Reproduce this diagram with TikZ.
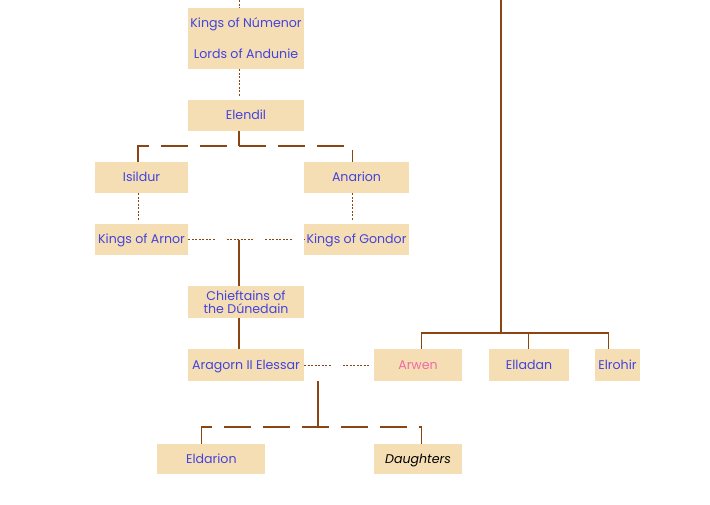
\documentclass[tikz,border=0pt]{standalone}
\usepackage{fontspec}
\setmainfont{Poppins}
\usetikzlibrary{positioning,calc}
\definecolor{wheat}{HTML}{F5DEB3}
\definecolor{nameblue}{HTML}{4343DE}
\definecolor{arwenpink}{HTML}{F06AA8}
\definecolor{linkbrown}{HTML}{8B4513}
\tikzset{person/.style={rectangle, fill=wheat, inner sep=0pt, text=nameblue,
  font=\fontsize{12.6}{13}\selectfont, align=center, minimum height=31pt}}
\tikzset{single/.style={person, text height=8.8pt, text depth=0pt}}
\tikzset{link/.style={draw=linkbrown, line width=1.1pt}}
\tikzset{dashlink/.style={link, dash pattern=on 27pt off 12pt}}
\tikzset{dotlink/.style={draw=linkbrown, line width=1pt,
  dash pattern=on 2pt off 1.5pt on 2pt off 1.5pt on 2pt off 1.5pt on 2pt off 1.5pt
  on 2pt off 1.5pt on 2pt off 1.5pt on 2pt off 1.5pt on 2pt off 12pt}}

\begin{document}
\begin{tikzpicture}[x=1pt, y=-1pt]
  \useasboundingbox (0,0) rectangle (710,504);
  % Elendil's line
  \node[person, minimum width=116pt, minimum height=61pt] (numenor) at (246,38.5)
       {Kings of Númenor\\[17pt]Lords of Andunie};
  \node[single, minimum width=116pt] (elendil) at (246,115.5) {Elendil};
  \node[single, minimum width=93pt]  (isildur) at (141.5,177.5) {Isildur};
  \node[single, minimum width=105pt] (anarion) at (356.5,177.5) {Anarion};
  \node[single, minimum width=93pt]  (arnor)   at (141.5,239.5) {Kings of Arnor};
  \node[single, minimum width=105pt] (gondor)  at (356.5,239.5) {Kings of Gondor};
  \node[person, minimum width=116pt, minimum height=32pt] (chieftains) at (246,302)
       {Chieftains of\\the Dúnedain};
  \node[single, minimum width=116pt, minimum height=32pt] (aragorn) at (246,365)
       {Aragorn II Elessar};

  % Elrond's children
  \node[single, minimum width=88pt, minimum height=32pt, text=arwenpink] (arwen) at (418,365) {Arwen};
  \node[single, minimum width=80pt, minimum height=32pt] (elladan) at (529,365) {Elladan};
  \node[single, minimum width=45pt, minimum height=32pt] (elrohir) at (617.5,365) {Elrohir};

  % Aragorn and Arwen's children
  \node[single, minimum width=108pt, minimum height=30pt] (eldarion) at (211.3,459) {Eldarion};
  \node[single, minimum width=88pt, minimum height=30pt, text=black,
        font=\fontsize{12.6}{13}\selectfont\itshape] (daughters) at (418,459) {Daughters};

  % junctions
  \coordinate (top) at (239,0);
  \coordinate (mid) at (239,146);
  \coordinate (wed) at (318,365);
  \coordinate (kids) at (318,427);
  \coordinate (elrond) at (501,0);
  \coordinate (elrondkids) at (501,333);

  % connectors
  \draw[dotlink] (top) -- (top |- numenor.north);
  \draw[dotlink] (numenor.south -| top) -- (elendil.north -| top);
  \draw[link] (elendil.south -| top) -- (mid);
  \draw[dashlink] ([xshift=-3.5pt]isildur.north) |- (mid) -| ([xshift=-4.2pt]anarion.north);
  \draw[dotlink] ([xshift=-3.5pt]isildur.south) -- ([xshift=-3.5pt]arnor.north);
  \draw[dotlink] ([xshift=-4.2pt]anarion.south) -- ([xshift=-4.2pt]gondor.north);
  \draw[dotlink] (arnor.east) -- (gondor.west);
  \draw[link] (arnor.east -| top) -- (chieftains.north -| top);
  \draw[link] (chieftains.south -| top) -- (aragorn.north -| top);
  \draw[dotlink] (aragorn.east) -- (arwen.west);
  \draw[link] (aragorn.south -| wed) -- (kids);
  \draw[dashlink] ([xshift=-9.6pt]eldarion.north) |- (kids) -| ([xshift=3.7pt]daughters.north);
  \draw[link] (elrond) -- (elrondkids);
  \draw[link] ([xshift=3.7pt]arwen.north) |- (elrondkids) -| ([xshift=-9.2pt]elrohir.north);
  \draw[link] ([xshift=-0.7pt]elladan.north) -- ([xshift=-0.7pt]elladan.north |- elrondkids);
\end{tikzpicture}
\end{document}
